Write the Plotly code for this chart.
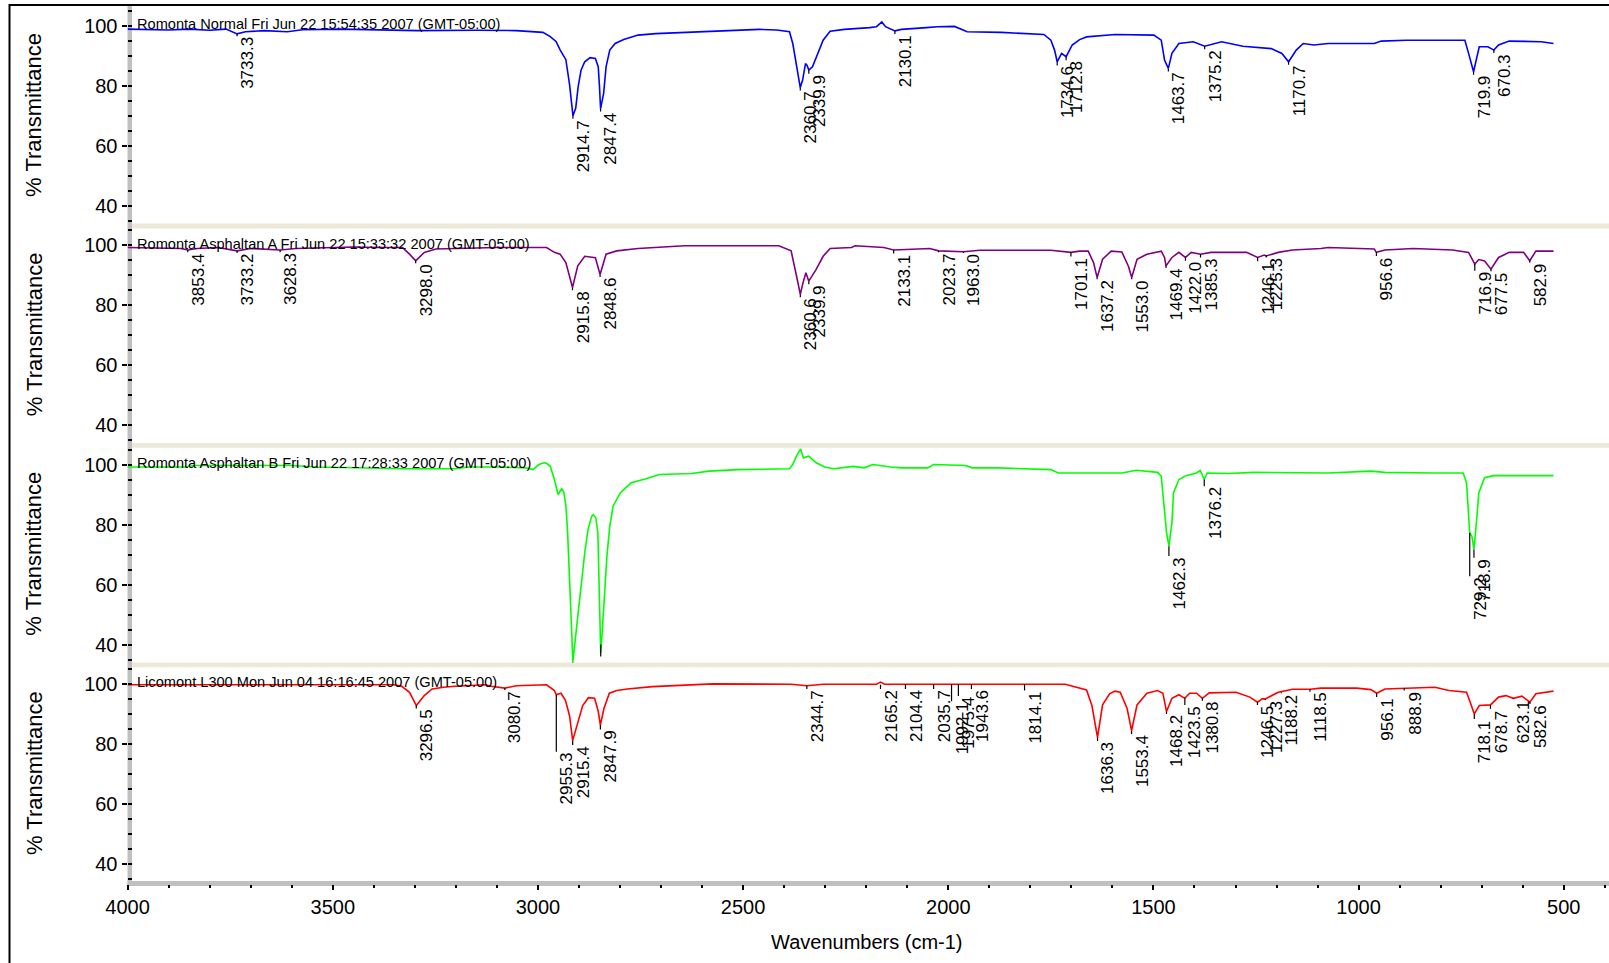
import plotly.graph_objects as go

W, H = 1609, 963
FONT = "Liberation Sans, Arial, sans-serif"

# ---------------- data: (wavenumber cm-1, % transmittance) ----------------
romonta_normal = [
    (4000, 98.9), (3900, 98.6), (3850, 98.9), (3800, 98.5), (3760, 98.9), (3746, 98.0),
    (3733.3, 97.3), (3713, 98.0), (3667, 98.4), (3611, 98.0), (3574, 98.7), (3481, 98.9),
    (3388, 98.7), (3295, 98.4), (3150, 98.5), (3053, 98.4), (2988, 97.8), (2970, 96.4),
    (2956, 94.8), (2946, 92.0), (2932, 88.7), (2923, 80.5), (2914.7, 70.0), (2908, 72.5),
    (2902, 79.7), (2895, 85.2), (2886, 88.0), (2873, 89.4), (2860, 89.1), (2853, 86.3),
    (2850, 79.7), (2847.4, 72.4), (2840, 77.4), (2834, 86.3), (2825, 91.9), (2812, 94.1),
    (2791, 95.4), (2756, 96.9), (2713, 97.4), (2643, 97.8), (2583, 98.3), (2461, 98.8),
    (2418, 98.6), (2387, 98.0), (2379, 94.1), (2370, 86.3), (2360.7, 79.4), (2355, 81.9),
    (2348, 87.4), (2344, 86.8), (2339.9, 85.2), (2331, 86.3), (2318, 90.8), (2305, 95.2),
    (2288, 98.2), (2253, 98.8), (2192, 99.4), (2175, 99.7), (2162, 101.3), (2153, 99.7),
    (2130.1, 98.3), (2114, 98.8), (2053, 99.4), (2027, 99.7), (1985, 99.8), (1954, 98.0),
    (1871, 97.8), (1767, 97.1), (1750, 95.2), (1741, 91.9), (1734.6, 88.0), (1724, 90.8),
    (1712.8, 89.7), (1698, 93.6), (1680, 95.4), (1663, 96.3), (1594, 97.1), (1499, 96.9),
    (1481, 95.2), (1473, 88.6), (1463.7, 85.8), (1455, 90.8), (1438, 94.1), (1403, 94.7),
    (1375.2, 93.2), (1334, 94.7), (1282, 93.2), (1213, 92.4), (1187, 90.8), (1170.7, 88.0),
    (1152, 91.9), (1135, 94.1), (1109, 93.6), (1074, 94.1), (962, 94.1), (945, 94.9),
    (884, 95.2), (741, 95.2), (732, 90.8), (719.9, 84.7), (706, 93.0), (685, 93.0),
    (670.3, 91.9), (659, 93.6), (633, 94.9), (555, 94.7), (525, 94.1),
]

asphaltan_a = [
    (4000, 99.2), (3920, 98.9), (3870, 98.9), (3853.4, 98.4), (3830, 98.9), (3780, 99.2),
    (3733.2, 98.1), (3700, 98.9), (3628.3, 98.4), (3590, 98.9), (3450, 99.4), (3390, 99.2),
    (3330, 99.2), (3313, 97.0), (3298.0, 94.8), (3277, 97.6), (3249, 98.7), (3100, 99.2),
    (2979, 99.2), (2960, 97.6), (2946, 97.0), (2932, 94.2), (2923, 89.8), (2915.8, 85.9),
    (2903, 93.1), (2886, 96.3), (2860, 95.8), (2848.6, 90.2), (2834, 97.0), (2808, 98.1),
    (2756, 98.9), (2643, 99.8), (2413, 99.8), (2383, 98.1), (2370, 89.8), (2360.6, 83.6),
    (2353, 88.0), (2347, 90.8), (2339.9, 88.0), (2322, 91.9), (2305, 96.3), (2288, 98.9),
    (2236, 99.2), (2227, 99.8), (2157, 99.2), (2133.1, 98.4), (2045, 98.9), (2027, 98.1),
    (2023.7, 98.1), (1963.0, 97.8), (1923, 98.3), (1750, 98.3), (1724, 98.0), (1701.1, 97.6),
    (1680, 98.0), (1659, 98.0), (1646, 94.2), (1637.2, 89.2), (1624, 95.3), (1603, 98.0),
    (1577, 97.7), (1561, 93.0), (1553.0, 89.2), (1540, 95.3), (1516, 97.0), (1481, 98.0),
    (1473, 95.9), (1469.4, 93.1), (1455, 95.9), (1438, 97.6), (1422.0, 95.9), (1408, 97.6),
    (1385.3, 97.0), (1360, 97.6), (1273, 97.6), (1246.1, 95.9), (1230, 96.7), (1225.3, 96.4),
    (1196, 97.6), (1161, 98.4), (1092, 98.9), (1074, 99.2), (962, 98.7), (956.6, 97.6),
    (936, 98.4), (867, 98.9), (771, 98.4), (732, 97.6), (716.9, 93.7), (707, 95.2),
    (693, 94.7), (677.5, 92.0), (659, 95.9), (633, 97.6), (598, 97.6), (582.9, 94.8),
    (568, 98.0), (525, 98.0),
]

asphaltan_b = [
    (4000, 99.2), (3860, 99.2), (3840, 99.7), (3600, 99.7), (3540, 99.2), (3400, 98.9),
    (3320, 98.6), (3200, 98.6), (3170, 99.2), (3100, 99.2), (3030, 98.9), (3012, 98.3),
    (2998, 100.0), (2985, 100.6), (2979, 100.4), (2970, 99.4), (2960, 95.0), (2951, 90.0),
    (2942, 91.9), (2937, 90.8), (2932, 86.3), (2928, 78.3), (2925, 69.4), (2921, 58.3),
    (2918, 45.0), (2915, 34.2), (2908, 42.8), (2902, 50.6), (2895, 60.6), (2886, 70.6),
    (2878, 78.3), (2869, 82.8), (2865, 83.3), (2859, 82.2), (2854, 77.2), (2852, 66.1),
    (2849, 50.6), (2847, 37.2), (2843, 45.0), (2838, 58.3), (2832, 69.4), (2825, 79.4),
    (2817, 86.1), (2799, 90.6), (2773, 93.9), (2739, 95.2), (2704, 96.7), (2626, 97.0),
    (2583, 97.8), (2513, 98.3), (2387, 98.6), (2379, 100.0), (2370, 102.8), (2360, 105.2),
    (2353, 102.2), (2347, 102.5), (2340, 102.8), (2322, 100.6), (2301, 99.2), (2279, 98.6),
    (2231, 99.4), (2205, 98.9), (2184, 100.0), (2140, 99.2), (2114, 98.9), (2050, 98.9),
    (2036, 100.0), (1958, 99.7), (1941, 98.9), (1880, 98.9), (1819, 98.6), (1750, 98.3),
    (1732, 97.2), (1681, 97.2), (1577, 97.2), (1542, 98.1), (1490, 97.4), (1481, 96.1),
    (1474, 86.1), (1468, 77.2), (1462.3, 72.8), (1455, 80.6), (1451, 90.6), (1438, 95.0),
    (1421, 96.3), (1395, 97.2), (1386, 98.0), (1376.2, 95.0), (1369, 97.2), (1317, 97.0),
    (1256, 97.4), (1161, 97.2), (1074, 97.2), (970, 97.8), (936, 97.4), (815, 97.2),
    (745, 97.2), (737, 93.9), (729.2, 77.2), (724, 76.1), (718.9, 71.7), (713, 80.6),
    (707, 90.6), (693, 95.6), (672, 96.3), (525, 96.3),
]

licomont = [
    (4000, 99.7), (3351, 99.7), (3332, 99.2), (3313, 97.2), (3296.5, 92.8), (3277, 96.1),
    (3258, 98.3), (3230, 98.9), (3202, 99.2), (3128, 99.7), (3114, 99.2), (3090, 98.9),
    (3080.7, 98.6), (3053, 99.4), (2979, 99.7), (2960, 97.8), (2955.3, 96.4), (2944, 96.9),
    (2933, 94.5), (2923, 89.4), (2915.4, 81.1), (2905, 86.1), (2891, 92.8), (2877, 95.4),
    (2862, 95.2), (2853, 90.8), (2847.9, 86.3), (2839, 91.9), (2826, 96.9), (2808, 97.8),
    (2782, 98.3), (2721, 99.1), (2574, 100.0), (2383, 99.9), (2344.7, 99.4), (2305, 99.9),
    (2175, 99.9), (2165.2, 100.6), (2155, 99.9), (1715, 99.9), (1663, 98.0), (1650, 92.8),
    (1636.3, 82.2), (1624, 93.0), (1607, 96.7), (1594, 97.6), (1581, 97.2), (1564, 91.7),
    (1553.4, 84.4), (1540, 93.0), (1516, 96.9), (1490, 97.8), (1477, 96.9), (1468.2, 90.8),
    (1455, 95.2), (1438, 96.4), (1423.5, 95.2), (1412, 96.9), (1395, 96.9), (1380.8, 95.2),
    (1364, 97.0), (1299, 97.2), (1265, 95.6), (1246.5, 93.9), (1235, 95.0), (1227.3, 95.0),
    (1196, 97.2), (1161, 98.2), (1118.5, 98.2), (1092, 98.6), (1005, 98.6), (970, 98.1),
    (956.1, 96.9), (936, 98.3), (888.9, 98.6), (814, 98.9), (780, 97.8), (737, 97.2),
    (728, 93.9), (718.1, 90.0), (706, 92.8), (678.7, 93.0), (659, 95.6), (641, 96.1),
    (623.1, 95.2), (602, 95.9), (582.6, 93.9), (568, 96.7), (525, 97.6),
]

# peak labels: (wavenumber, peak %T, %T where the label starts)
peaks_normal = [
    (3733.3, 97.3, 96.5), (2914.7, 70.0, 69.0), (2847.4, 72.4, 71.4), (2360.7, 79.4, 78.4),
    (2339.9, 85.2, 84.0), (2130.1, 98.3, 97.3), (1734.6, 88.0, 86.8), (1712.8, 89.7, 88.5),
    (1463.7, 85.8, 84.8), (1375.2, 93.2, 92.2), (1170.7, 88.0, 87.0), (719.9, 84.7, 83.7),
    (670.3, 91.9, 90.9),
]
peaks_a = [
    (3853.4, 98.4, 97.6), (3733.2, 98.1, 97.4), (3628.3, 98.4, 97.6), (3298.0, 94.8, 94.0),
    (2915.8, 85.9, 85.0), (2848.6, 90.2, 89.4), (2360.6, 83.6, 82.6), (2339.9, 88.0, 87.0),
    (2133.1, 98.4, 97.2), (2023.7, 98.1, 97.6), (1963.0, 97.8, 97.4), (1701.1, 97.6, 96.2),
    (1637.2, 89.2, 88.6), (1553.0, 89.2, 88.6), (1469.4, 93.1, 92.4), (1422.0, 95.9, 94.8),
    (1385.3, 97.0, 95.9), (1246.1, 95.9, 94.6), (1225.3, 96.7, 95.9), (956.6, 97.6, 96.4),
    (716.9, 93.7, 91.5), (677.5, 92.0, 91.3), (582.9, 94.8, 94.2),
]
peaks_b = [
    (1462.3, 72.8, 69.5), (1376.2, 95.0, 92.8), (729.2, 77.2, 62.8), (718.9, 71.7, 68.9),
]
ticks_only_b = [(2915.0, 34.2, 33.3), (2847.0, 40.0, 36.0)]
peaks_l = [
    (3296.5, 92.8, 91.8), (3080.7, 98.6, 98.0), (2955.3, 96.4, 77.4), (2915.4, 81.1, 79.6),
    (2847.9, 86.3, 84.8), (2344.7, 99.4, 98.3), (2165.2, 99.7, 98.3), (2104.4, 99.9, 98.3),
    (2035.7, 99.9, 98.3), (1992.1, 99.9, 94.2), (1975.4, 99.9, 96.0), (1943.6, 99.9, 98.3),
    (1814.1, 99.9, 97.8), (1636.3, 82.2, 81.0), (1553.4, 84.4, 83.3), (1468.2, 90.8, 90.0),
    (1423.5, 95.2, 93.0), (1380.8, 95.2, 94.4), (1246.5, 93.9, 93.0), (1227.3, 95.0, 94.6),
    (1188.2, 97.2, 96.9), (1118.5, 98.2, 97.4), (956.1, 96.9, 95.6), (888.9, 98.6, 97.8),
    (718.1, 90.0, 88.3), (678.7, 93.0, 91.7), (623.1, 95.2, 95.0), (582.6, 93.9, 93.3),
]

titles = [
    "Romonta Normal Fri Jun 22 15:54:35 2007 (GMT-05:00)",
    "Romonta Asphaltan A Fri Jun 22 15:33:32 2007 (GMT-05:00)",
    "Romonta Asphaltan B Fri Jun 22 17:28:33 2007 (GMT-05:00)",
    "Licomont L300 Mon Jun 04 16:16:45 2007 (GMT-05:00)",
]
colors = ["#0000ff", "#800080", "#00ff00", "#ff0000"]
spectra = [romonta_normal, asphaltan_a, asphaltan_b, licomont]
peak_sets = [peaks_normal, peaks_a, peaks_b, peaks_l]
extra_ticks = [[], [], ticks_only_b, []]

# ---------------- layout geometry (pixels) ----------------
X_LEFT = 127.5
PANEL_TOP0 = 6.0
PANEL_STEP = 219.37
PANEL_H = 219.9
Y_RANGE = [33.3, 106.6]
X_RANGE = [4000.3, 389.8]


def fx(px):
    return px / W


def fy(px):
    return 1 - px / H


fig = go.Figure()
annotations = []
layout = {}

for i in range(4):
    sfx = "" if i == 0 else str(i + 1)
    xa, ya = "x" + sfx, "y" + sfx
    wn = [p[0] for p in spectra[i]]
    tr = [p[1] for p in spectra[i]]
    fig.add_trace(go.Scatter(x=wn, y=tr, mode="lines", xaxis=xa, yaxis=ya,
                             line=dict(color=colors[i], width=1.6),
                             hoverinfo="skip", showlegend=False))
    tx, ty = [], []
    for (w, pk, top) in peak_sets[i] + extra_ticks[i]:
        tx += [w, w, None]
        ty += [pk, top, None]
    fig.add_trace(go.Scatter(x=tx, y=ty, mode="lines", xaxis=xa, yaxis=ya,
                             line=dict(color="black", width=1.2),
                             hoverinfo="skip", showlegend=False, connectgaps=False))
    for (w, pk, top) in peak_sets[i]:
        annotations.append(dict(text=f"{w:.1f}", x=w, y=top, xref=xa, yref=ya,
                                textangle=-90, xanchor="left", yanchor="top",
                                showarrow=False, borderpad=0,
                                font=dict(family=FONT, size=17, color="black")))
    # panel title
    annotations.append(dict(text=titles[i], x=fx(135), y=100.5, xref="paper", yref=ya,
                            xanchor="left", yanchor="middle", showarrow=False,
                            font=dict(family=FONT, size=14.6, color="black")))
    # y axis title
    annotations.append(dict(text="% Transmittance", x=fx(34), y=70.3, xref="paper", yref=ya,
                            xanchor="center", yanchor="middle", textangle=-90, showarrow=False,
                            font=dict(family=FONT, size=22, color="black")))

    top = PANEL_TOP0 + PANEL_STEP * i
    layout["yaxis" + sfx] = dict(
        domain=[fy(top + PANEL_H), fy(top)], range=Y_RANGE, anchor=xa,
        tickmode="linear", tick0=0, dtick=20, ticks="outside", ticklen=5,
        tickwidth=1.5, tickcolor="black", showgrid=False, zeroline=False, showline=False,
        tickfont=dict(family=FONT, size=20, color="black"),
        minor=dict(tickmode="linear", tick0=0, dtick=5, ticks="inside", ticklen=4,
                   tickwidth=1.5, tickcolor="black", showgrid=False),
        fixedrange=True,
    )
    bottom = i == 3
    layout["xaxis" + sfx] = dict(
        domain=[fx(X_LEFT), 1], range=X_RANGE, anchor=ya, visible=bottom,
        tickmode="linear", tick0=0, dtick=500, ticks="outside", ticklen=5,
        tickwidth=1.5, tickcolor="black", showgrid=False, zeroline=False, showline=False,
        tickfont=dict(family=FONT, size=20, color="black"),
        minor=dict(tickmode="linear", tick0=0, dtick=100, ticks="outside", ticklen=3,
                   tickwidth=1.5, tickcolor="black", showgrid=False),
        fixedrange=True,
    )

annotations.append(dict(text="Wavenumbers (cm-1)", x=fx(867), y=fy(942), xref="paper",
                        yref="paper", xanchor="center", yanchor="middle", showarrow=False,
                        font=dict(family=FONT, size=20, color="black")))

shapes = [
    # grey axis bars
    dict(type="rect", xref="paper", yref="paper", x0=fx(127.5), x1=fx(132),
         y0=fy(886), y1=fy(6), fillcolor="#c0c0c0", line=dict(width=0), layer="below"),
    dict(type="rect", xref="paper", yref="paper", x0=fx(127.5), x1=1.01,
         y0=fy(886), y1=fy(881), fillcolor="#c0c0c0", line=dict(width=0), layer="below"),
    # outer frame
    dict(type="rect", xref="paper", yref="paper", x0=fx(9.5), x1=1.05,
         y0=-0.05, y1=fy(5), line=dict(color="black", width=2), fillcolor="rgba(0,0,0,0)"),
]
for b in [223.6, 443.0, 662.4]:
    shapes.append(dict(type="rect", xref="paper", yref="paper", x0=fx(132), x1=1.01,
                       y0=fy(b + 4.8), y1=fy(b), fillcolor="#ece9d8",
                       line=dict(width=0), layer="above"))

fig.update_layout(
    width=W, height=H,
    margin=dict(l=0, r=0, t=0, b=0, autoexpand=False),
    paper_bgcolor="white", plot_bgcolor="rgba(0,0,0,0)",
    showlegend=False, annotations=annotations, shapes=shapes,
    font=dict(family=FONT, color="black"),
    **layout,
)

fig.write_html("out.html", config={"displayModeBar": False})
